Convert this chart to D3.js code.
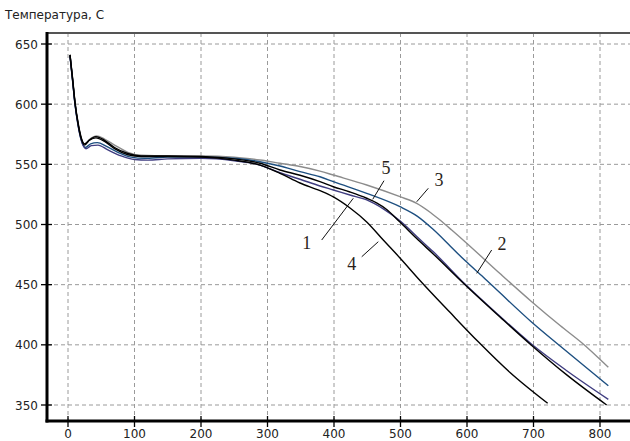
<!DOCTYPE html>
<html><head><meta charset="utf-8">
<script src="https://cdn.jsdelivr.net/npm/d3@7/dist/d3.min.js"></script>
<style>body{margin:0;background:#fff}svg{display:block}</style>
</head><body>
<svg id="c" width="630" height="441"></svg>
<script>
const title = "Температура, С";
const xTicks = [0,100,200,300,400,500,600,700,800];
const yTicks = [350,400,450,500,550,600,650];

// curve 1 (black)
const curve1 = [[3,641],[7,620],[10.5,601],[15,584],[20,571],[25,566],[32,570],[42,573],[55,570],[70,564],[90,559],[110,557],[150,557],[200,556.5],[250,554.5],[288.7,550.9],[318.8,545.3],[348.9,540.9],[378.9,535.6],[399,531.4],[424,527],[449.2,521.8],[464,518],[479.2,512.5],[499.2,502],[524,488.5],[549.3,475.5],[597,450],[650,423],[697.3,399.5],[750,375],[810,350]];
// curve 2 (blue)
const curve2 = [[3,640],[7,619],[10.5,600],[15,583],[20,570],[26,564],[34,567],[44,568],[58,565],[75,560],[95,556],[115,555],[150,556],[200,556],[250,555],[288.7,552.2],[318.8,548.6],[348.9,543.9],[378.9,539.7],[399,535.6],[449.2,525.9],[499.2,514.8],[525,507],[549,496],[575,482],[597,470],[625,456],[650,443],[697,419],[740,399],[812.5,366]];
// curve 3 (grey)
const curve3 = [[3,641],[7,620],[10.5,601],[15,584],[20,571],[25,567],[33,571],[43,573.5],[55,571],[70,566],[90,560],[110,557.5],[150,557],[200,557],[250,556],[288.7,553.6],[318.8,550.9],[348.9,548.2],[378.9,544.4],[399,541.1],[449.2,532.8],[499.2,523.1],[524.4,517.6],[545,510],[559.4,503.7],[577,495.4],[597,485.7],[650,459],[697.3,435.8],[740,416],[773,401.5],[812.5,381.3]];
// curve 4 (black, steepest)
const curve4 = [[3,641],[7,621],[10.5,602],[15,585],[20,572],[25,567],[32,570],[42,572],[55,569],[70,563],[90,558],[110,556.5],[150,556.5],[200,556],[250,553.5],[288.7,549.4],[318.8,542.5],[348.9,534.5],[378.9,528.1],[399,522.9],[424.1,513.7],[449.2,502.1],[474.1,487.1],[499.2,472.2],[529.3,453.5],[574.4,427],[617,402.5],[664.7,377],[721.3,351.4]];
// curve 5 (purple)
const curve5 = [[3,640],[7,619],[10.5,600],[15,583],[20,570],[27,563],[35,565.5],[45,566],[60,562],[80,557],[100,554],[120,553.5],[150,554.5],[200,555],[250,553],[288.7,549.4],[318.8,543],[348.9,537.6],[378.9,532],[399,528.7],[424,524.5],[449.2,520.4],[474.1,513],[499.2,503],[529.3,487.5],[549,477.5],[597,450.5],[650,423.5],[697.3,400.5],[750,378.5],[812.5,354.7]];

const seriesColors = ["#000000","#1d4f80","#8c8c8c","#000000","#3f3d80"];
const seriesData = [curve1, curve2, curve3, curve4, curve5];

// labels: text, position, leader line from/to (data units)
const labelText = ["1","2","3","4","5"];
const labelPos = [[359,485],[652.6,483.8],[557.9,537],[426.6,467.2],[478.2,546.9]];
const leaderFrom = [[381.5,487.1],[637.1,478.8],[541.8,530.1],[441.7,473.2],[475.2,536.4]];
const leaderTo = [[429,521.8],[614.6,459.4],[524.4,518.9],[466.6,485.7],[458.2,520.9]];

const svg = d3.select("#c");
const x = d3.scaleLinear().domain([0,800]).range([68,600]);
const y = d3.scaleLinear().domain([350,650]).range([405,44]);
const L = 47, R = 630, T = 33, B = 421;

svg.append("text").attr("x",5).attr("y",19).attr("font-family","DejaVu Sans, sans-serif")
  .attr("font-size",12).attr("fill","#222").text(title);

// grid
const g = svg.append("g");
g.selectAll("line.h").data(yTicks).join("line")
  .attr("x1",L).attr("x2",R).attr("y1",d=>y(d)).attr("y2",d=>y(d))
  .attr("stroke","#9a9a9a").attr("stroke-dasharray","4,3").attr("stroke-width",1);
g.selectAll("line.v").data(xTicks).join("line")
  .attr("y1",T).attr("y2",B).attr("x1",d=>x(d)).attr("x2",d=>x(d))
  .attr("stroke","#9a9a9a").attr("stroke-dasharray","4,3").attr("stroke-width",1);

// clip
svg.append("clipPath").attr("id","clip").append("rect").attr("x",L).attr("y",T).attr("width",R-L).attr("height",B-T);

const line = d3.line().x(d=>x(d[0])).y(d=>y(d[1])).curve(d3.curveMonotoneX);
const order = [2,1,4,0,3];
svg.append("g").attr("clip-path","url(#clip)").selectAll("path").data(order).join("path")
  .attr("d",i=>line(seriesData[i])).attr("fill","none")
  .attr("stroke",i=>seriesColors[i]).attr("stroke-width",1.4);

// frame
svg.append("line").attr("x1",L).attr("x2",R).attr("y1",T).attr("y2",T).attr("stroke","#555").attr("stroke-width",2);
svg.append("line").attr("x1",L).attr("x2",L).attr("y1",T-1).attr("y2",B+1.5).attr("stroke","#000").attr("stroke-width",3);
svg.append("line").attr("x1",L-1.5).attr("x2",R).attr("y1",B).attr("y2",B).attr("stroke","#000").attr("stroke-width",3);

// ticks
svg.selectAll("line.yt").data(yTicks).join("line").attr("x1",L-6).attr("x2",L+5)
  .attr("y1",d=>y(d)).attr("y2",d=>y(d)).attr("stroke","#000").attr("stroke-width",1.3);
svg.selectAll("line.xt").data(xTicks).join("line").attr("y1",B-5).attr("y2",B+6)
  .attr("x1",d=>x(d)).attr("x2",d=>x(d)).attr("stroke","#000").attr("stroke-width",1.3);
svg.selectAll("text.yl").data(yTicks).join("text").attr("x",38).attr("y",d=>y(d)+4.5)
  .attr("text-anchor","end").attr("font-family","DejaVu Sans, sans-serif").attr("font-size",12)
  .attr("fill","#222").text(d=>d);
svg.selectAll("text.xl").data(xTicks).join("text").attr("x",d=>x(d)).attr("y",438)
  .attr("text-anchor","middle").attr("font-family","DejaVu Sans, sans-serif").attr("font-size",12)
  .attr("fill","#222").text(d=>d);

// labels
const lg = svg.append("g");
lg.selectAll("line").data(labelText.map((t,i)=>i)).join("line")
  .attr("x1",i=>x(leaderFrom[i][0])).attr("y1",i=>y(leaderFrom[i][1]))
  .attr("x2",i=>x(leaderTo[i][0])).attr("y2",i=>y(leaderTo[i][1]))
  .attr("stroke","#111").attr("stroke-width",1);
lg.selectAll("text").data(labelText.map((t,i)=>i)).join("text")
  .attr("x",i=>x(labelPos[i][0])).attr("y",i=>y(labelPos[i][1])+6)
  .attr("text-anchor","middle").attr("font-family","Liberation Serif, serif").attr("font-size",18)
  .attr("fill","#2a1f1a").text(i=>labelText[i]);
</script>
</body></html>
